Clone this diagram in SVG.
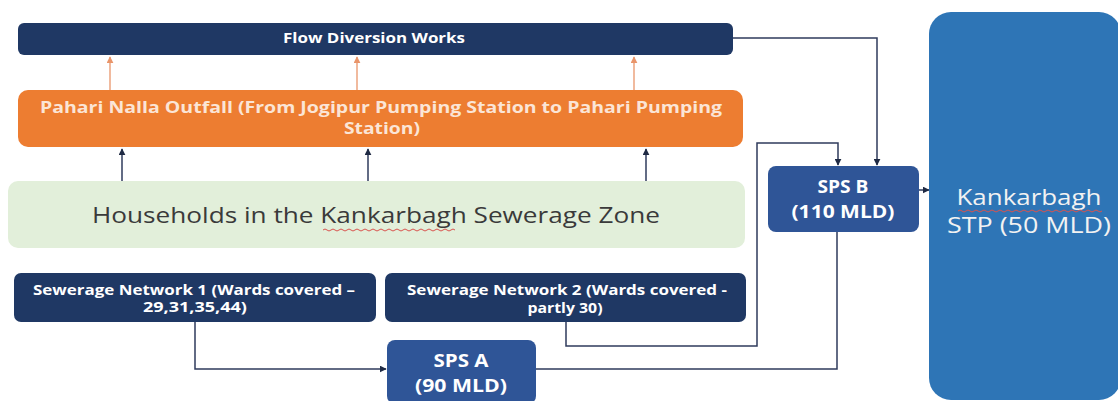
<svg xmlns="http://www.w3.org/2000/svg" width="1118" height="401" viewBox="0 0 1118 401">
  <defs>
    <style>
      .lbl { font-family: "Open Sans", "Liberation Sans", sans-serif; font-weight: bold; text-anchor: middle; }
      .reg { font-family: "Open Sans", "Liberation Sans", sans-serif; text-anchor: middle; }
      .wire { fill: none; stroke: #2f3b5c; stroke-width: 1.5; }
      .owire { fill: none; stroke: #e9956a; stroke-width: 1.3; }
      .squig { fill: none; stroke: #d9534f; stroke-width: 1; }
    </style>
    <marker id="ah" viewBox="0 0 10 10" refX="9" refY="5" markerWidth="7" markerHeight="7" markerUnits="userSpaceOnUse" orient="auto">
      <path d="M0,0 L10,5 L0,10 Z" fill="#1f2a44"/>
    </marker>
    <marker id="oah" viewBox="0 0 10 10" refX="9" refY="5" markerWidth="7" markerHeight="7" markerUnits="userSpaceOnUse" orient="auto">
      <path d="M0,0 L10,5 L0,10 Z" fill="#e9956a"/>
    </marker>
  </defs>
  <rect width="1118" height="401" fill="#ffffff"/>

  <!-- connectors -->
  <g id="connectors">
    <path class="owire" d="M110,90 V57" marker-end="url(#oah)"/>
    <path class="owire" d="M357,90 V57" marker-end="url(#oah)"/>
    <path class="owire" d="M634,90 V57" marker-end="url(#oah)"/>
    <path class="wire" d="M122,181 V149" marker-end="url(#ah)"/>
    <path class="wire" d="M368,181 V149" marker-end="url(#ah)"/>
    <path class="wire" d="M646,181 V149" marker-end="url(#ah)"/>
    <path class="wire" d="M733,38 H877 V165" marker-end="url(#ah)"/>
    <path class="wire" d="M566,322 V346 H757 V143 H838 V165" marker-end="url(#ah)"/>
    <path class="wire" d="M195,322 V369 H386" marker-end="url(#ah)"/>
    <path class="wire" d="M536,369 H837 V232"/>
    <path class="wire" d="M919,190 H929" marker-end="url(#ah)"/>
  </g>

  <g id="flow-diversion">
    <rect x="18" y="23" width="715" height="32" rx="6" fill="#1f3864"/>
    <text class="lbl" x="374" y="43" font-size="14" fill="#ffffff" textLength="182" lengthAdjust="spacingAndGlyphs">Flow Diversion Works</text>
  </g>

  <g id="pahari-nalla">
    <rect x="18" y="90" width="725" height="57" rx="10" fill="#ed7d31"/>
    <text class="lbl" x="381" y="113" font-size="15.5" fill="#fbe5d6" textLength="682" lengthAdjust="spacingAndGlyphs">Pahari Nalla Outfall (From Jogipur Pumping Station to Pahari Pumping</text>
    <text class="lbl" x="382" y="134" font-size="15.5" fill="#fbe5d6" textLength="76" lengthAdjust="spacingAndGlyphs">Station)</text>
  </g>

  <g id="households">
    <rect x="8" y="181" width="737" height="67" rx="10" fill="#e2efda"/>
    <text class="reg" x="376" y="223" font-size="22" fill="#3a3a3a" textLength="568" lengthAdjust="spacingAndGlyphs">Households in the Kankarbagh Sewerage Zone</text>
    <path class="squig" d="M323,230 q2,-2 4,0 t4,0 t4,0 t4,0 t4,0 t4,0 t4,0 t4,0 t4,0 t4,0 t4,0 t4,0 t4,0 t4,0 t4,0 t4,0 t4,0 t4,0 t4,0 t4,0 t4,0 t4,0 t4,0 t4,0 t4,0 t4,0 t4,0 t4,0 t4,0 t4,0 t4,0 t4,0 t4,0"/>
  </g>

  <g id="sewerage-network-1">
    <rect x="14" y="273" width="362" height="49" rx="7" fill="#1f3864"/>
    <text class="lbl" x="194" y="295" font-size="13.5" fill="#ffffff" textLength="322" lengthAdjust="spacingAndGlyphs">Sewerage Network 1 (Wards covered –</text>
    <text class="lbl" x="195" y="312" font-size="13.5" fill="#ffffff" textLength="104" lengthAdjust="spacingAndGlyphs">29,31,35,44)</text>
  </g>

  <g id="sewerage-network-2">
    <rect x="385" y="273" width="361" height="49" rx="7" fill="#1f3864"/>
    <text class="lbl" x="567" y="295" font-size="13.5" fill="#ffffff" textLength="320" lengthAdjust="spacingAndGlyphs">Sewerage Network 2 (Wards covered -</text>
    <text class="lbl" x="565" y="313" font-size="13.5" fill="#ffffff" textLength="75" lengthAdjust="spacingAndGlyphs">partly 30)</text>
  </g>

  <g id="sps-a">
    <rect x="387" y="340" width="149" height="64" rx="8" fill="#2f5597"/>
    <text class="lbl" x="461" y="367" font-size="17" fill="#ffffff" textLength="55" lengthAdjust="spacingAndGlyphs">SPS A</text>
    <text class="lbl" x="461" y="392" font-size="17" fill="#ffffff" textLength="92" lengthAdjust="spacingAndGlyphs">(90 MLD)</text>
  </g>

  <g id="sps-b">
    <rect x="768" y="166" width="151" height="66" rx="8" fill="#2f5597"/>
    <text class="lbl" x="843" y="193" font-size="17" fill="#ffffff" textLength="51" lengthAdjust="spacingAndGlyphs">SPS B</text>
    <text class="lbl" x="843" y="218" font-size="17" fill="#ffffff" textLength="103" lengthAdjust="spacingAndGlyphs">(110 MLD)</text>
  </g>

  <g id="kankarbagh-stp">
    <rect x="929" y="12" width="192" height="388" rx="22" fill="#2e75b6"/>
    <text class="reg" x="1029" y="205" font-size="21" fill="#f2f2f2" textLength="145" lengthAdjust="spacingAndGlyphs">Kankarbagh</text>
    <path class="squig" d="M958,211 q2,-2 4,0 t4,0 t4,0 t4,0 t4,0 t4,0 t4,0 t4,0 t4,0 t4,0 t4,0 t4,0 t4,0 t4,0 t4,0 t4,0 t4,0 t4,0 t4,0 t4,0 t4,0 t4,0 t4,0 t4,0 t4,0 t4,0 t4,0 t4,0 t4,0 t4,0 t4,0 t4,0 t4,0 t4,0 t4,0 t4,0"/>
    <text class="reg" x="1029" y="233" font-size="21" fill="#f2f2f2" textLength="164" lengthAdjust="spacingAndGlyphs">STP (50 MLD)</text>
  </g>
</svg>
